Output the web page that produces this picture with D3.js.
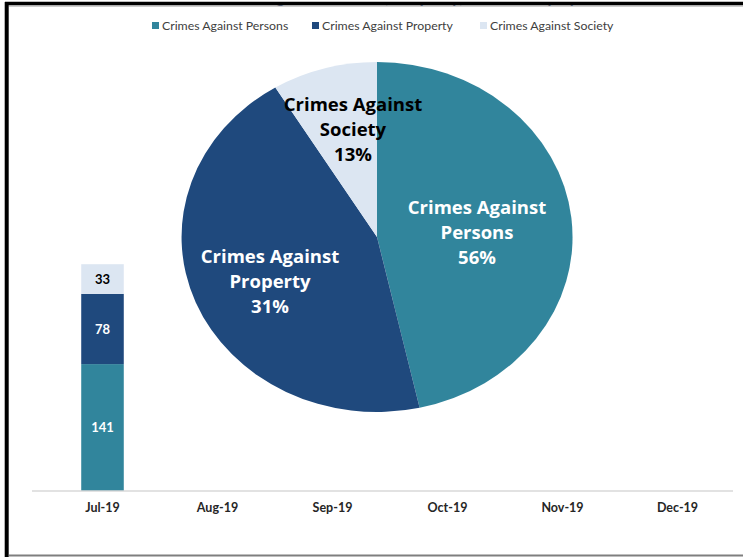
<!DOCTYPE html>
<html>
<head>
<meta charset="utf-8">
<script src="https://cdn.jsdelivr.net/npm/d3@7"></script>
<style>
  body { margin: 0; background: #fff; }
  svg { display: block; font-family: Lato, "Open Sans", sans-serif; }
</style>
</head>
<body>
<svg id="chart" width="743" height="558"></svg>
<script>
const months = ["Jul-19", "Aug-19", "Sep-19", "Oct-19", "Nov-19", "Dec-19"]
const categories = ["Crimes Against Persons", "Crimes Against Property", "Crimes Against Society"]
const persons = [141, null, null, null, null, null]
const property = [78, null, null, null, null, null]
const society = [33, null, null, null, null, null]
// pie slice sizes as they are drawn in the picture (share of the circle)
const pieShares = [46.5, 44.8, 8.7]
const pieLabels = [["Crimes Against", "Persons", "56%"], ["Crimes Against", "Property", "31%"], ["Crimes Against", "Society", "13%"]]
const colours = ["#31859c", "#1f497d", "#dce6f2"]

const svg = d3.select("#chart")
const width = 743
const height = 558

// frame (title is cut off at the top, as in the picture)
svg.append("text")
    .attr("x", 420).attr("y", 3)
    .attr("text-anchor", "middle")
    .attr("font-weight", "bold")
    .attr("font-size", 17)
    .attr("fill", "#1f3a6b")
    .text("Crimes Against Persons, Property, and Society by Month")
svg.append("rect").attr("x", 0).attr("y", 0).attr("width", width).attr("height", 2).attr("fill", "#fff")
svg.append("line").attr("x1", 5).attr("x2", width).attr("y1", 3.5).attr("y2", 3.5)
    .attr("stroke", "#000").attr("stroke-width", 3.5)
svg.append("line").attr("x1", 9).attr("x2", width).attr("y1", 6).attr("y2", 6)
    .attr("stroke", "#999").attr("stroke-width", 1)
svg.append("line").attr("x1", 6.7).attr("x2", 6.7).attr("y1", 2).attr("y2", 557)
    .attr("stroke", "#000").attr("stroke-width", 4)
svg.append("line").attr("x1", 9).attr("x2", width).attr("y1", 555.5).attr("y2", 555.5)
    .attr("stroke", "#7f7f7f").attr("stroke-width", 2)

// legend
const legendX = [152, 312, 480]
const legend = svg.append("g").attr("class", "legend")
categories.forEach((c, i) => {
    const g = legend.append("g").attr("transform", `translate(${legendX[i]},26)`)
    g.append("rect").attr("x", 0).attr("y", -4).attr("width", 7).attr("height", 7).attr("fill", colours[i])
    g.append("text").attr("x", 10).attr("y", 0).attr("dy", "0.35em")
        .attr("font-size", 12.3).attr("fill", "#404040")
        .text(c)
})

// stacked bars
const x = d3.scaleBand().domain(months).range([45, 735]).paddingInner(0.63).paddingOuter(0.315)
const y = d3.scaleLinear().domain([0, 500]).range([491, 41])

const rows = months.map((m, i) => ({month: m, persons: persons[i] || 0, property: property[i] || 0, society: society[i] || 0}))
const stack = d3.stack().keys(["persons", "property", "society"])(rows)

const bars = svg.append("g").attr("class", "bars")
stack.forEach((layer, k) => {
    layer.forEach(d => {
        const v = d[1] - d[0]
        if (!v) return
        bars.append("rect")
            .attr("x", x(d.data.month))
            .attr("width", x.bandwidth())
            .attr("y", y(d[1]))
            .attr("height", y(d[0]) - y(d[1]))
            .attr("fill", colours[k])
        bars.append("text")
            .attr("x", x(d.data.month) + x.bandwidth() / 2)
            .attr("y", (y(d[0]) + y(d[1])) / 2)
            .attr("dy", "0.35em")
            .attr("text-anchor", "middle")
            .attr("font-weight", "bold")
            .attr("font-size", 13)
            .attr("fill", k === 2 ? "#000" : "#fff")
            .text(v)
    })
})

const xAxis = svg.append("g")
    .attr("transform", "translate(0,491)")
    .call(d3.axisBottom(x).tickSize(0).tickPadding(12))
xAxis.select(".domain").attr("stroke", "#d9d9d9").attr("stroke-width", 1.5)
    .attr("d", "M32,0H733")
xAxis.selectAll("text")
    .attr("font-family", "Lato, sans-serif")
    .attr("font-size", 12.5)
    .attr("font-weight", "bold")
    .attr("fill", "#262626")

// pie (stretched horizontally like the picture)
const cx = 377, cy = 237, rx = 195.5, ry = 175
const pie = d3.pie().sort(null)(pieShares)
const arc = d3.arc().innerRadius(0).outerRadius(1)
const pieG = svg.append("g").attr("transform", `translate(${cx},${cy}) scale(${rx},${ry})`)
pieG.selectAll("path")
    .data(pie)
    .join("path")
    .attr("d", arc)
    .attr("fill", (d, i) => colours[i])

const labelPos = [[477, 208], [270, 257], [353, 105]]
pieLabels.forEach((lines, i) => {
    const t = svg.append("text")
        .attr("text-anchor", "middle")
        .attr("font-family", "'Open Sans', sans-serif")
        .attr("font-weight", "bold")
        .attr("font-size", 18.5)
        .attr("fill", i === 2 ? "#000" : "#fff")
    lines.forEach((l, j) => {
        t.append("tspan")
            .attr("x", labelPos[i][0])
            .attr("y", labelPos[i][1] + j * 25)
            .attr("dy", "0.35em")
            .text(l)
    })
})
</script>
</body>
</html>
